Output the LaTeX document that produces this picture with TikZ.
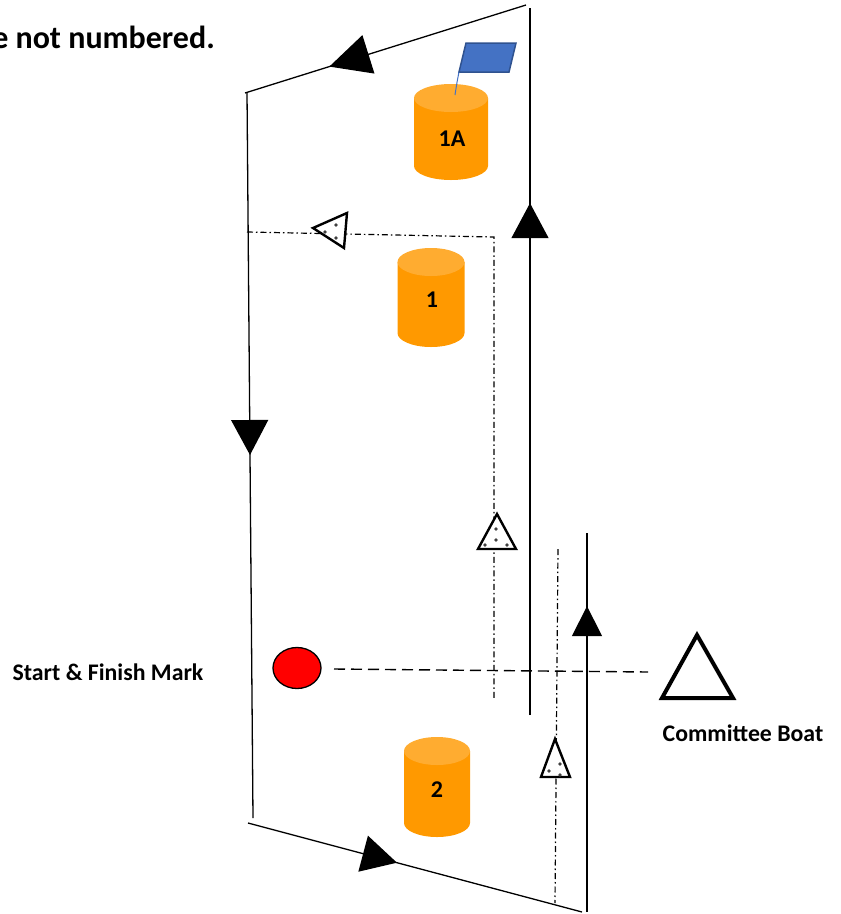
\documentclass[tikz,border=0pt]{standalone}
\usepackage{fontspec}
\setmainfont{Carlito}
\usetikzlibrary{arrows.meta,decorations.markings}
\definecolor{drumbody}{RGB}{255,153,0}
\definecolor{drumtop}{RGB}{255,172,48}
\definecolor{flagblue}{RGB}{68,114,196}
\definecolor{flagedge}{RGB}{47,82,143}
\tikzset{
  course/.style={line width=1.3pt},
  tipat/.style={postaction={decorate},decoration={markings,mark=at position #1 with {\arrow{Triangle[length=35pt,width=37pt]}}}},
  tipbig/.style={postaction={decorate},decoration={markings,mark=at position #1 with {\arrow{Triangle[length=41pt,width=40pt]}}}},
  tipsmall/.style={postaction={decorate},decoration={markings,mark=at position #1 with {\arrow{Triangle[length=30pt,width=30pt]}}}},
  courseDD/.style={line width=1.2pt,dash pattern=on 6pt off 3pt on 1.5pt off 3pt},
  lineDash/.style={line width=1.4pt,dash pattern=on 11pt off 6pt},
  buoytri/.style={draw=black,fill=white,line width=2.4pt,line join=miter},
  buoydot/.style={fill=gray!50!black},
  lab/.style={font=\fontsize{23.8}{28}\selectfont\bfseries,inner sep=0pt},
  numlab/.style={font=\fontsize{24}{28}\selectfont\bfseries,inner sep=0pt},
  pics/drum/.style 2 args={code={
    \fill[drumbody] (-#1,14) -- (-#1,#2-14) arc[start angle=180,end angle=0,x radius=#1,y radius=14] -- (#1,14) -- cycle;
    \fill[drumtop] (0,14) ellipse[x radius=#1,y radius=14];
  }}
}
\begin{document}
\begin{tikzpicture}[x=1pt,y=-1pt]
\useasboundingbox (0,0) rectangle (841,914);
% course corners
\coordinate (TR) at (526,5);
\coordinate (TL) at (245,93);
\coordinate (LT) at (247,92);
\coordinate (LB) at (253,818);
\coordinate (BL) at (248,823);
\coordinate (BR) at (582,912);
\coordinate (RT) at (530,8);
\coordinate (RB) at (530,715);
\coordinate (ST) at (587,533);
\coordinate (SB) at (587,912);
% course lines
\draw[course,tipbig=0.70] (TR) -- (TL);
\draw[course,tipat=0.5] (LT) -- (LB);
\draw[course,tipat=0.446] (BL) -- (BR);
\draw[course,tipat=0.724] (RB) -- (RT);
\draw[course,tipsmall=0.807] (SB) -- (ST);
% dash-dot lines
\coordinate (D1a) at (247,232);
\coordinate (D1b) at (494,237);
\coordinate (D1c) at (494,700);
\draw[courseDD] (D1a) -- (D1b) -- (D1c);
\coordinate (D2a) at (558,549);
\coordinate (D2b) at (555,903);
\draw[courseDD] (D2a) -- (D2b);
% start line
\coordinate (SLa) at (334,669);
\coordinate (SLb) at (648,672);
\draw[lineDash] (SLa) -- (SLb);
% small triangles
\draw[buoytri] (313,228) -- (347,213) -- (344,248) -- cycle;
\fill[buoydot] (325,232) circle (1.8) (336,225) circle (1.8) (336,238) circle (1.8);
\draw[buoytri] (497,514) -- (478,549) -- (516,549) -- cycle;
\fill[buoydot] (496,529) circle (1.8) (496,540) circle (1.8) (485,545) circle (1.8) (507,545) circle (1.8);
\draw[buoytri] (555,739) -- (541,777) -- (570,777) -- cycle;
\fill[buoydot] (549,771) circle (1.8) (560,764) circle (1.8) (560,775) circle (1.8);
% committee boat
\draw[line width=4pt,line join=miter] (697,635) -- (662,698) -- (733,698) -- cycle;
% start & finish mark
\draw[fill=red,line width=1.3pt] (297,668) ellipse[x radius=24,y radius=20.5];
% drums
\pic at (451,84) {drum={37}{96}};
\pic at (431,248) {drum={33.5}{99}};
\pic at (437,737) {drum={33}{100}};
% flag
\filldraw[fill=flagblue,draw=flagedge,line width=1.5pt] (466,43) -- (516,43) -- (509,72) -- (459,72) -- cycle;
\draw[flagblue,line width=1pt] (459,72) .. controls (457,82) .. (455,95);
% texts
\node[numlab] (l1A) at (452,139) {1A};
\node[numlab] (l1) at (432,300) {1};
\node[numlab] (l2) at (437,790) {2};
\node[font=\fontsize{32}{38}\selectfont\bfseries,anchor=base east,inner sep=0pt] (title) at (215,48) {e not numbered.};
\node[lab] (sfm) at (108,672) {Start \& Finish Mark};
\node[lab] (cb) at (743,733) {Committee Boat};
\end{tikzpicture}
\end{document}
